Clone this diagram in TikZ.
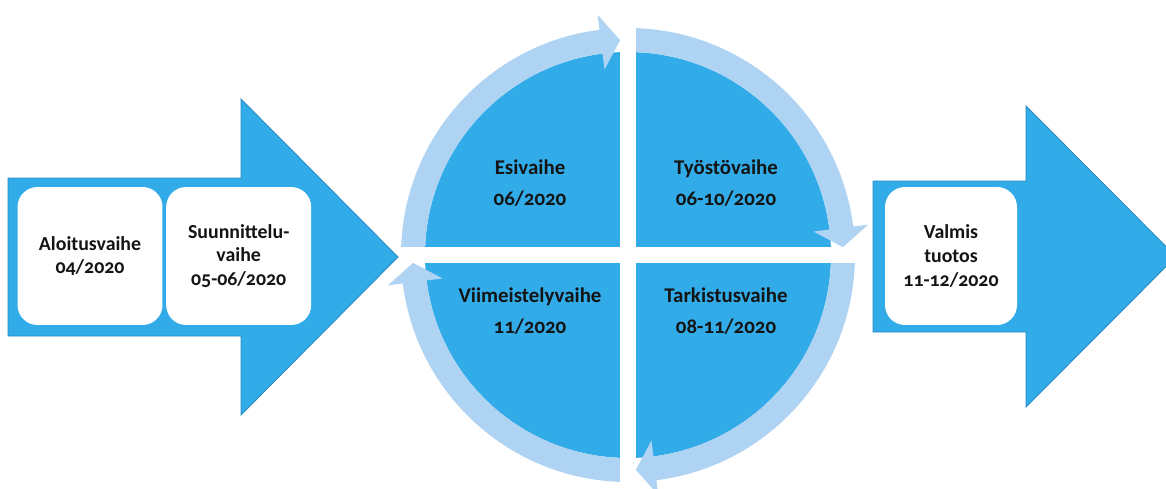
\documentclass[tikz,border=0pt]{standalone}
\usepackage{fontspec}
\setmainfont{Carlito}[Numbers=OldStyle]
\usetikzlibrary{positioning}

\definecolor{kierto}{RGB}{50,171,233}
\definecolor{kehys}{RGB}{175,211,243}
\definecolor{reuna}{RGB}{42,138,196}
\definecolor{teksti}{RGB}{20,20,20}

\begin{document}
\begin{tikzpicture}[
    x=0.02cm, y=0.02cm,
    vaihe/.style={fill=white, rounded corners=0.4cm, minimum width=2.9cm, minimum height=2.76cm, align=center, font=\fontsize{11.3}{13.4}\selectfont\bfseries, text=teksti},
    kvartti/.style={align=center, font=\fontsize{11.9}{17.6}\selectfont\bfseries, text=teksti},
    iso/.style={fill=kierto, draw=reuna, line width=0.5pt},
    node distance=0.06cm
  ]
  \useasboundingbox (0,0) rectangle (1166,488);

  % big arrows in and out
  \draw[iso] (8,152) -- (8,310) -- (241,310) -- (241,389) -- (398,231) -- (241,73) -- (241,152) -- cycle;
  \begin{scope}
    \clip (0,0) rectangle (1166,488);
    \draw[iso] (873,156) -- (873,307) -- (1026,307) -- (1026,382) -- (1176,231.5) -- (1026,81) -- (1026,156) -- cycle;
  \end{scope}

  % cycle: pie, ring arrows, gaps
  \begin{scope}[shift={(628,233)}]
    \fill[kierto] (0,0) circle[radius=203];
    \foreach \k in {0,...,3}
      \fill[kehys, rotate=-90*\k] (180:227) arc[start angle=180, end angle=97.2, radius=227]
        -- (97.2:242) -- (92.1:215) -- (97.2:187) -- (97.2:203)
        arc[start angle=97.2, end angle=180, radius=203] -- cycle;
    \fill[white] (-229,-8) rectangle (229,8);
    \fill[white] (-8,-250) rectangle (8,250);
  \end{scope}

  \node[kvartti] (esi) at (530,305) {Esivaihe\\06/2020};
  \node[kvartti] (tyosto) at (726,305) {Työstövaihe\\06-10/2020};
  \node[kvartti] (tark) at (726,177) {Tarkistusvaihe\\08-11/2020};
  \node[kvartti] (viim) at (530,177) {Viimeistelyvaihe\\11/2020};

  \node[vaihe] (alku) at (90,232) {Aloitusvaihe\\04/2020};
  \node[vaihe, right=of alku] (suunn) {Suunnittelu-\\vaihe\\05-06/2020};
  \node[vaihe, minimum width=2.64cm] (valmis) at (951,232) {Valmis\\tuotos\\11-12/2020};
\end{tikzpicture}
\end{document}
